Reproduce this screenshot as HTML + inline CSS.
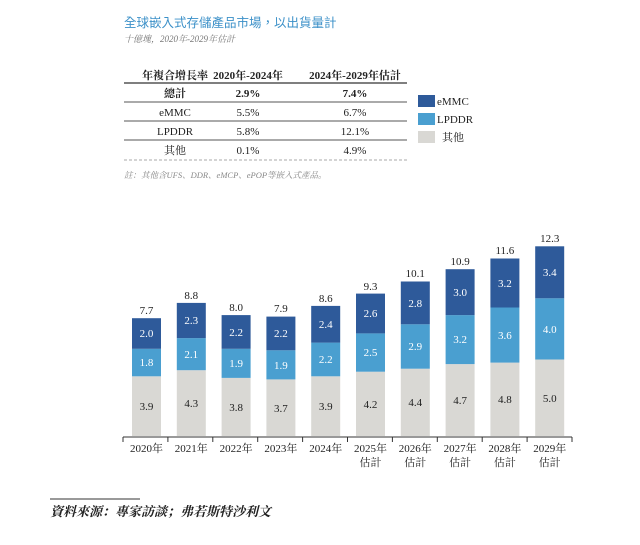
<!DOCTYPE html>
<html><head><meta charset="utf-8"><style>
body{margin:0;background:#fff;}
svg text{font-family:"Liberation Serif","Noto Serif CJK SC","Noto Sans CJK TC",serif;}
</style></head><body>
<svg width="640" height="540" xmlns="http://www.w3.org/2000/svg">
<text x="124" y="27" font-size="12.5" fill="#3b90c8" style="font-family:'Liberation Sans','Noto Sans CJK TC',sans-serif">全球嵌入式存儲產品市場，以出貨量計</text>
<text x="124" y="42" font-size="9" fill="#777" font-style="italic">十億塊，2020年-2029年估計</text>
<g font-size="11" fill="#222" text-anchor="middle">
<text x="175" y="79" font-weight="bold">年複合增長率</text>
<text x="248" y="79" font-weight="bold">2020年-2024年</text>
<text x="355" y="79" font-weight="bold">2024年-2029年估計</text>
<text x="175" y="97" font-weight="bold">總計</text><text x="248" y="97" font-weight="bold">2.9%</text><text x="355" y="97" font-weight="bold">7.4%</text>
<text x="175" y="116">eMMC</text><text x="248" y="116">5.5%</text><text x="355" y="116">6.7%</text>
<text x="175" y="135">LPDDR</text><text x="248" y="135">5.8%</text><text x="355" y="135">12.1%</text>
<text x="175" y="154">其他</text><text x="248" y="154">0.1%</text><text x="355" y="154">4.9%</text>
</g>
<g stroke="#555"><line x1="124" y1="83" x2="407" y2="83" stroke-width="1.5"/><line x1="124" y1="102" x2="407" y2="102"/><line x1="124" y1="121" x2="407" y2="121"/><line x1="124" y1="140" x2="407" y2="140"/><line x1="124" y1="160" x2="407" y2="160" stroke="#aaa" stroke-dasharray="3,2"/></g>
<rect x="418" y="95" width="17" height="12" fill="#2e5a9a"/><rect x="418" y="113" width="17" height="12" fill="#4a9fd0"/><rect x="418" y="131" width="17" height="12" fill="#d9d8d4"/>
<g font-size="11" fill="#222"><text x="437" y="105">eMMC</text><text x="437" y="123">LPDDR</text><text x="442" y="141">其他</text></g>
<text x="124" y="178" font-size="8.5" fill="#888" font-style="italic">註：其他含UFS、DDR、eMCP、ePOP等嵌入式產品。</text>

<g>
<rect x="132" y="376.3" width="29" height="59.7" fill="#d9d8d4"/><rect x="132" y="348.8" width="29" height="27.5" fill="#4a9fd0"/><rect x="132" y="318.2" width="29" height="30.6" fill="#2e5a9a"/>
<rect x="176.8" y="370.2" width="29" height="65.8" fill="#d9d8d4"/><rect x="176.8" y="338.1" width="29" height="32.1" fill="#4a9fd0"/><rect x="176.8" y="302.9" width="29" height="35.2" fill="#2e5a9a"/>
<rect x="221.6" y="377.9" width="29" height="58.1" fill="#d9d8d4"/><rect x="221.6" y="348.8" width="29" height="29.1" fill="#4a9fd0"/><rect x="221.6" y="315.1" width="29" height="33.7" fill="#2e5a9a"/>
<rect x="266.4" y="379.4" width="29" height="56.6" fill="#d9d8d4"/><rect x="266.4" y="350.3" width="29" height="29.1" fill="#4a9fd0"/><rect x="266.4" y="316.6" width="29" height="33.7" fill="#2e5a9a"/>
<rect x="311.2" y="376.3" width="29" height="59.7" fill="#d9d8d4"/><rect x="311.2" y="342.6" width="29" height="33.7" fill="#4a9fd0"/><rect x="311.2" y="305.9" width="29" height="36.7" fill="#2e5a9a"/>
<rect x="356" y="371.7" width="29" height="64.3" fill="#d9d8d4"/><rect x="356" y="333.4" width="29" height="38.3" fill="#4a9fd0"/><rect x="356" y="293.6" width="29" height="39.8" fill="#2e5a9a"/>
<rect x="400.8" y="368.7" width="29" height="67.3" fill="#d9d8d4"/><rect x="400.8" y="324.3" width="29" height="44.4" fill="#4a9fd0"/><rect x="400.8" y="281.5" width="29" height="42.8" fill="#2e5a9a"/>
<rect x="445.6" y="364.1" width="29" height="71.9" fill="#d9d8d4"/><rect x="445.6" y="315.1" width="29" height="49" fill="#4a9fd0"/><rect x="445.6" y="269.2" width="29" height="45.9" fill="#2e5a9a"/>
<rect x="490.4" y="362.6" width="29" height="73.4" fill="#d9d8d4"/><rect x="490.4" y="307.5" width="29" height="55.1" fill="#4a9fd0"/><rect x="490.4" y="258.5" width="29" height="49" fill="#2e5a9a"/>
<rect x="535.2" y="359.5" width="29" height="76.5" fill="#d9d8d4"/><rect x="535.2" y="298.3" width="29" height="61.2" fill="#4a9fd0"/><rect x="535.2" y="246.3" width="29" height="52" fill="#2e5a9a"/>
</g>
<g font-size="11" text-anchor="middle" fill="#222">
<text x="146.5" y="410">3.9</text><text x="191.3" y="407">4.3</text><text x="236.1" y="411">3.8</text><text x="280.9" y="412">3.7</text><text x="325.7" y="410">3.9</text><text x="370.5" y="408">4.2</text><text x="415.3" y="406">4.4</text><text x="460.1" y="404">4.7</text><text x="504.9" y="403">4.8</text><text x="549.7" y="402">5.0</text>
<text x="146.5" y="314">7.7</text><text x="191.3" y="299">8.8</text><text x="236.1" y="311">8.0</text><text x="280.9" y="312">7.9</text><text x="325.7" y="302">8.6</text><text x="370.5" y="290">9.3</text><text x="415.3" y="277">10.1</text><text x="460.1" y="265">10.9</text><text x="504.9" y="254">11.6</text><text x="549.7" y="242">12.3</text>
</g>
<g font-size="11" text-anchor="middle" fill="#fff">
<text x="146.5" y="366">1.8</text><text x="191.3" y="358">2.1</text><text x="236.1" y="367">1.9</text><text x="280.9" y="369">1.9</text><text x="325.7" y="363">2.2</text><text x="370.5" y="356">2.5</text><text x="415.3" y="350">2.9</text><text x="460.1" y="343">3.2</text><text x="504.9" y="339">3.6</text><text x="549.7" y="333">4.0</text>
<text x="146.5" y="337">2.0</text><text x="191.3" y="324">2.3</text><text x="236.1" y="336">2.2</text><text x="280.9" y="337">2.2</text><text x="325.7" y="328">2.4</text><text x="370.5" y="317">2.6</text><text x="415.3" y="307">2.8</text><text x="460.1" y="296">3.0</text><text x="504.9" y="287">3.2</text><text x="549.7" y="276">3.4</text>
</g>
<line x1="123" y1="437" x2="572" y2="437" stroke="#333"/>
<g stroke="#333">
<line x1="123" y1="437" x2="123" y2="442"/><line x1="167.9" y1="437" x2="167.9" y2="442"/><line x1="212.8" y1="437" x2="212.8" y2="442"/><line x1="257.7" y1="437" x2="257.7" y2="442"/><line x1="302.6" y1="437" x2="302.6" y2="442"/><line x1="347.5" y1="437" x2="347.5" y2="442"/><line x1="392.4" y1="437" x2="392.4" y2="442"/><line x1="437.3" y1="437" x2="437.3" y2="442"/><line x1="482.2" y1="437" x2="482.2" y2="442"/><line x1="527.1" y1="437" x2="527.1" y2="442"/><line x1="572" y1="437" x2="572" y2="442"/>
</g>
<g font-size="11" text-anchor="middle" fill="#222">
<text x="146.5" y="452">2020年</text><text x="191.3" y="452">2021年</text><text x="236.1" y="452">2022年</text><text x="280.9" y="452">2023年</text><text x="325.7" y="452">2024年</text><text x="370.5" y="452">2025年</text><text x="415.3" y="452">2026年</text><text x="460.1" y="452">2027年</text><text x="504.9" y="452">2028年</text><text x="549.7" y="452">2029年</text>
<text x="370.5" y="466">估計</text><text x="415.3" y="466">估計</text><text x="460.1" y="466">估計</text><text x="504.9" y="466">估計</text><text x="549.7" y="466">估計</text>
</g>
<line x1="50" y1="499" x2="140" y2="499" stroke="#333"/>
<text x="50" y="516" font-size="13" font-style="italic" font-weight="bold" fill="#222">資料來源：專家訪談；弗若斯特沙利文</text>
</svg>
</body></html>
